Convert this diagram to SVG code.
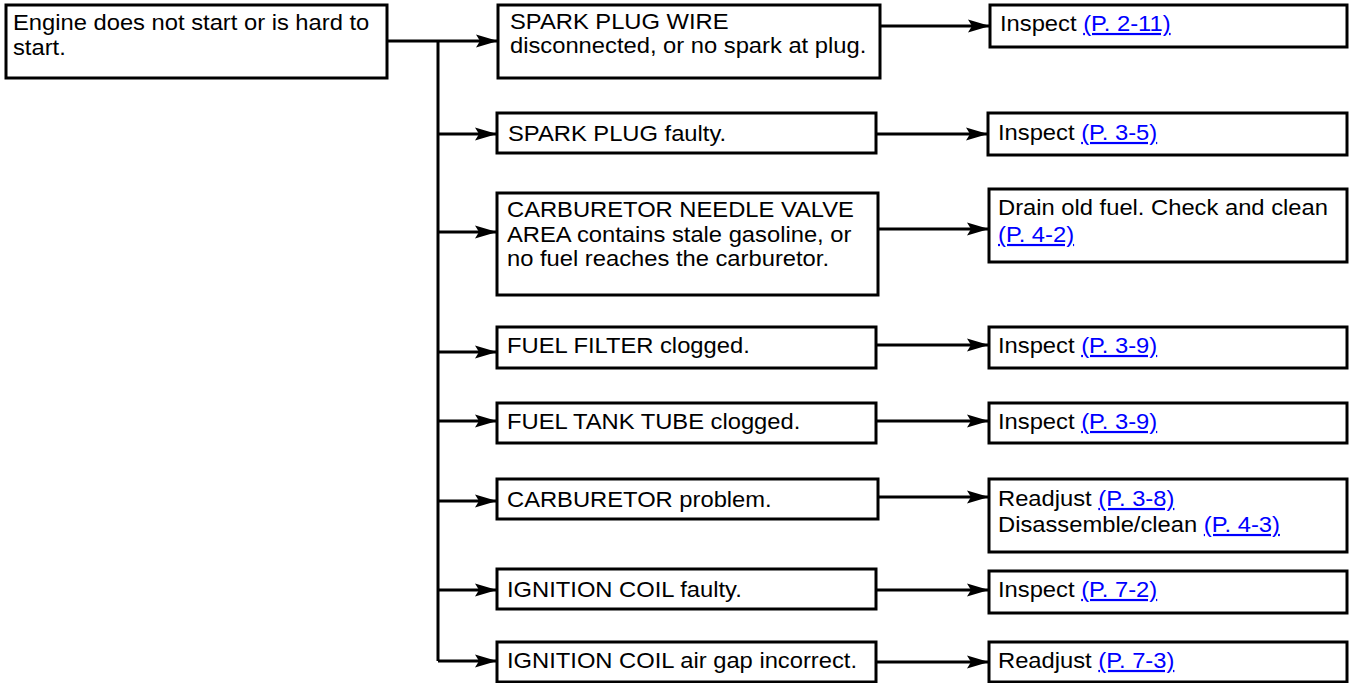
<svg xmlns="http://www.w3.org/2000/svg" width="1349" height="683" viewBox="0 0 1349 683">
<style>
.box{fill:#fff;stroke:#000;stroke-width:3}
.t{font-family:"Liberation Sans",Arial,Helvetica,sans-serif;font-size:22px;fill:#000}
.lk{fill:#0000ff;text-decoration:underline}
.c{stroke:#000;stroke-width:3;fill:none}
</style>
<defs>
<marker id="ah" markerUnits="userSpaceOnUse" markerWidth="24" markerHeight="16" refX="22" refY="8" orient="auto">
<path d="M0,1.5 L22,8 L0,14.5 L4,8 z" fill="#000"/>
</marker>
</defs>
<rect width="1349" height="683" fill="#fff"/>
<g id="src">
<rect class="box" x="6" y="5" width="381" height="73"/>
<text class="t" transform="translate(13,30) scale(1.08,1)">Engine does not start or is hard to</text>
<text class="t" transform="translate(13,55) scale(1.08,1)">start.</text>
</g>
<g id="n1">
<rect class="box" x="498" y="5" width="382" height="73"/>
<text class="t" transform="translate(510,29) scale(1.08,1)">SPARK PLUG WIRE</text>
<text class="t" transform="translate(510,53) scale(1.08,1)">disconnected, or no spark at plug.</text>
</g>
<g id="n2">
<rect class="box" x="497" y="113" width="379" height="40"/>
<text class="t" transform="translate(508,141) scale(1.08,1)">SPARK PLUG faulty.</text>
</g>
<g id="n3">
<rect class="box" x="497" y="193" width="381" height="102"/>
<text class="t" transform="translate(507,217) scale(1.08,1)">CARBURETOR NEEDLE VALVE</text>
<text class="t" transform="translate(507,242) scale(1.08,1)">AREA contains stale gasoline, or</text>
<text class="t" transform="translate(507,266) scale(1.08,1)">no fuel reaches the carburetor.</text>
</g>
<g id="n4">
<rect class="box" x="497" y="327" width="379" height="41"/>
<text class="t" transform="translate(507,353) scale(1.08,1)">FUEL FILTER clogged.</text>
</g>
<g id="n5">
<rect class="box" x="497" y="403" width="379" height="40"/>
<text class="t" transform="translate(507,429) scale(1.08,1)">FUEL TANK TUBE clogged.</text>
</g>
<g id="n6">
<rect class="box" x="497" y="479" width="381" height="40"/>
<text class="t" transform="translate(507,507) scale(1.08,1)">CARBURETOR problem.</text>
</g>
<g id="n7">
<rect class="box" x="497" y="569" width="379" height="40"/>
<text class="t" transform="translate(507,597) scale(1.08,1)">IGNITION COIL faulty.</text>
</g>
<g id="n8">
<rect class="box" x="497" y="642" width="379" height="40"/>
<text class="t" transform="translate(507,668) scale(1.08,1)">IGNITION COIL air gap incorrect.</text>
</g>
<g id="a1">
<rect class="box" x="990" y="5" width="357" height="42"/>
<text class="t" transform="translate(1000,31) scale(1.08,1)">Inspect <tspan class="lk">(P. 2-11)</tspan></text>
</g>
<g id="a2">
<rect class="box" x="988" y="113" width="359" height="42"/>
<text class="t" transform="translate(998,140) scale(1.08,1)">Inspect <tspan class="lk">(P. 3-5)</tspan></text>
</g>
<g id="a3">
<rect class="box" x="989" y="189" width="358" height="73"/>
<text class="t" transform="translate(998,215) scale(1.08,1)">Drain old fuel. Check and clean</text>
<text class="t" transform="translate(998,242) scale(1.08,1)"><tspan class="lk">(P. 4-2)</tspan></text>
</g>
<g id="a4">
<rect class="box" x="989" y="327" width="358" height="41"/>
<text class="t" transform="translate(998,353) scale(1.08,1)">Inspect <tspan class="lk">(P. 3-9)</tspan></text>
</g>
<g id="a5">
<rect class="box" x="989" y="403" width="358" height="40"/>
<text class="t" transform="translate(998,429) scale(1.08,1)">Inspect <tspan class="lk">(P. 3-9)</tspan></text>
</g>
<g id="a6">
<rect class="box" x="989" y="479" width="358" height="73"/>
<text class="t" transform="translate(998,506) scale(1.08,1)">Readjust <tspan class="lk">(P. 3-8)</tspan></text>
<text class="t" transform="translate(998,532) scale(1.08,1)">Disassemble/clean <tspan class="lk">(P. 4-3)</tspan></text>
</g>
<g id="a7">
<rect class="box" x="989" y="571" width="358" height="42"/>
<text class="t" transform="translate(998,597) scale(1.08,1)">Inspect <tspan class="lk">(P. 7-2)</tspan></text>
</g>
<g id="a8">
<rect class="box" x="989" y="642" width="358" height="40"/>
<text class="t" transform="translate(998,668) scale(1.08,1)">Readjust <tspan class="lk">(P. 7-3)</tspan></text>
</g>
<g id="connectors">
<path class="c" d="M387,41 H498" marker-end="url(#ah)"/>
<path class="c" d="M438,41 V661"/>
<path class="c" d="M438,134 H497" marker-end="url(#ah)"/>
<path class="c" d="M438,232 H497" marker-end="url(#ah)"/>
<path class="c" d="M438,352 H497" marker-end="url(#ah)"/>
<path class="c" d="M438,421 H497" marker-end="url(#ah)"/>
<path class="c" d="M438,501 H497" marker-end="url(#ah)"/>
<path class="c" d="M438,590 H497" marker-end="url(#ah)"/>
<path class="c" d="M438,661 H497" marker-end="url(#ah)"/>
<path class="c" d="M880,26 H990" marker-end="url(#ah)"/>
<path class="c" d="M876,134 H988" marker-end="url(#ah)"/>
<path class="c" d="M878,229 H989" marker-end="url(#ah)"/>
<path class="c" d="M876,345 H989" marker-end="url(#ah)"/>
<path class="c" d="M876,421 H989" marker-end="url(#ah)"/>
<path class="c" d="M878,497 H989" marker-end="url(#ah)"/>
<path class="c" d="M876,590 H989" marker-end="url(#ah)"/>
<path class="c" d="M876,662 H989" marker-end="url(#ah)"/>
</g>
</svg>
